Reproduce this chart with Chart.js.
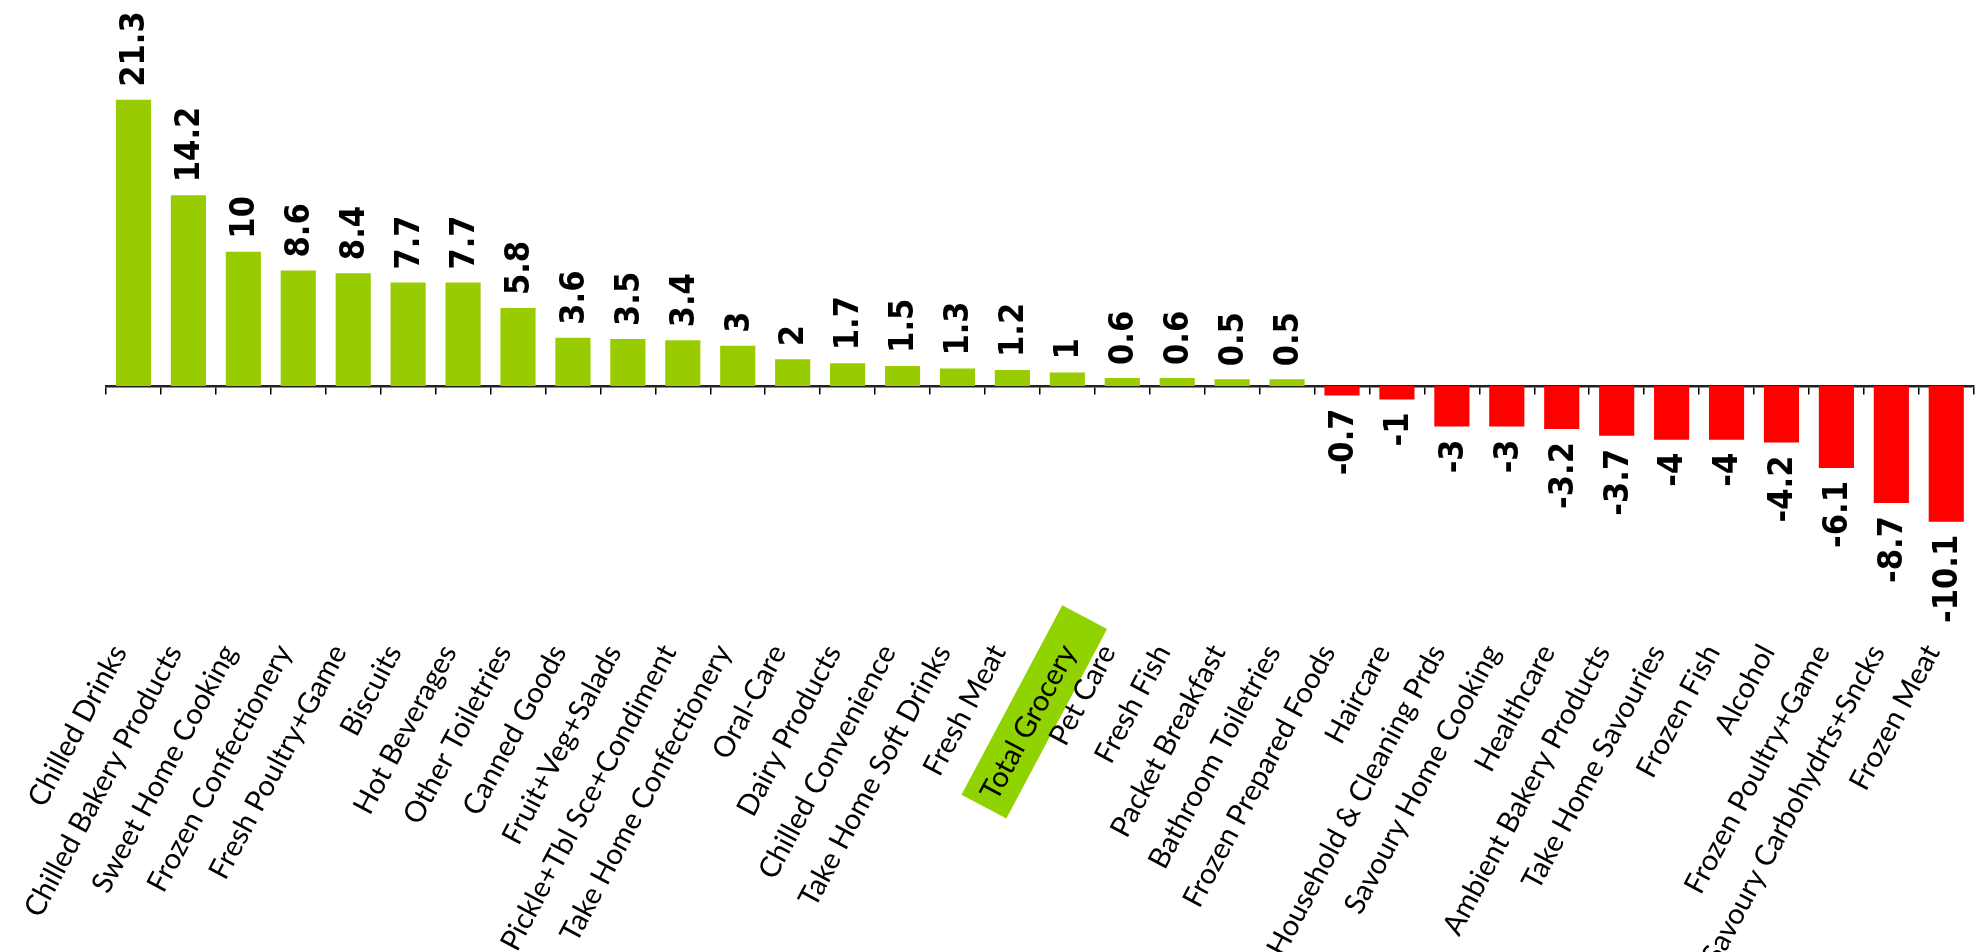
<!DOCTYPE html>
<html>
<head>
<meta charset="utf-8">
<script src="https://cdn.jsdelivr.net/npm/chart.js@4.4.1/dist/chart.umd.min.js"></script>
<style>
  html, body { margin: 0; padding: 0; background: #fff; }
  #wrap { width: 1977px; height: 952px; position: relative; }
</style>
</head>
<body>
<div id="wrap"><canvas id="growth"></canvas></div>
<script>
// Category growth, % change vs year ago
const categories = [
  "Chilled Drinks", "Chilled Bakery Products", "Sweet Home Cooking", "Frozen Confectionery",
  "Fresh Poultry+Game", "Biscuits", "Hot Beverages", "Other Toiletries", "Canned Goods",
  "Fruit+Veg+Salads", "Pickle+Tbl Sce+Condiment", "Take Home Confectionery", "Oral-Care",
  "Dairy Products", "Chilled Convenience", "Take Home Soft Drinks", "Fresh Meat", "Total Grocery",
  "Pet Care", "Fresh Fish", "Packet Breakfast", "Bathroom Toiletries", "Frozen Prepared Foods",
  "Haircare", "Household & Cleaning Prds", "Savoury Home Cooking", "Healthcare",
  "Ambient Bakery Products", "Take Home Savouries", "Frozen Fish", "Alcohol",
  "Frozen Poultry+Game", "Savoury Carbohydrts+Sncks", "Frozen Meat"
];
const growth = [
  21.3, 14.2, 10, 8.6, 8.4, 7.7, 7.7, 5.8, 3.6, 3.5, 3.4, 3, 2, 1.7, 1.5, 1.3, 1.2, 1,
  0.6, 0.6, 0.5, 0.5, -0.7, -1, -3, -3, -3.2, -3.7, -4, -4, -4.2, -6.1, -8.7, -10.1
];
const highlighted = "Total Grocery";

const GREEN = "#99cc00";
const RED = "#ff0000";
const ANGLE = 62;

// value labels, rotated to read bottom-to-top
const barValues = {
  id: "barValues",
  afterDatasetsDraw(chart) {
    const ctx = chart.ctx;
    const meta = chart.getDatasetMeta(0);
    ctx.save();
    ctx.font = "bold 34px 'DejaVu Sans Condensed', 'DejaVu Sans', sans-serif";
    ctx.fillStyle = "#000";
    ctx.textBaseline = "middle";
    meta.data.forEach((bar, i) => {
      const v = growth[i];
      const gap = 13;
      ctx.save();
      if (v >= 0) {
        ctx.translate(bar.x + 2, bar.y - gap);
        ctx.rotate(-Math.PI / 2);
        ctx.textAlign = "left";
      } else {
        ctx.translate(bar.x + 2, bar.y + gap);
        ctx.rotate(-Math.PI / 2);
        ctx.textAlign = "right";
      }
      ctx.fillText(String(v), 0, 0);
      ctx.restore();
    });
    ctx.restore();
  }
};

new Chart(document.getElementById("growth"), {
  type: "bar",
  data: {
    labels: categories,
    datasets: [{
      data: growth,
      backgroundColor: growth.map(v => v >= 0 ? GREEN : RED),
      borderWidth: 0,
      categoryPercentage: 1,
      barPercentage: 0.64,
      clip: false
    }]
  },
  options: {
    responsive: true,
    maintainAspectRatio: false,
    animation: false,
    layout: { padding: { left: 106, right: 0, top: 50, bottom: 0 } },
    plugins: { legend: { display: false }, tooltip: { enabled: false } },
    scales: {
      y: {
        display: false,
        min: -11.08,
        max: 25
      },
      // zero line with the category tick marks
      x: {
        position: { y: 0 },
        offset: true,
        grid: {
          offset: true,
          drawOnChartArea: false,
          drawTicks: true,
          tickLength: 7,
          color: "#000",
          lineWidth: 1.5
        },
        border: { display: true, color: "#222", width: 2.5 },
        ticks: { display: false }
      },
      // category names along the bottom; tall box so the highlight is not clipped,
      // the hidden tick length pushes the names down
      x2: {
        type: "category",
        labels: categories,
        position: "bottom",
        offset: true,
        grid: { display: false, drawTicks: true, tickLength: 104 },
        border: { display: false },
        afterFit(scale) { scale.height = 417; },
        ticks: {
          autoSkip: false,
          minRotation: ANGLE,
          maxRotation: ANGLE,
          padding: 0,
          labelOffset: -14,
          color: "#000",
          font: { family: "Lato, 'Open Sans', sans-serif", size: 29 },
          showLabelBackdrop: ctx => categories[ctx.index] === highlighted,
          backdropColor: "#90d300",
          backdropPadding: { top: 8, bottom: 8, left: 10, right: 34 }
        }
      }
    }
  },
  plugins: [barValues]
});
</script>
</body>
</html>
